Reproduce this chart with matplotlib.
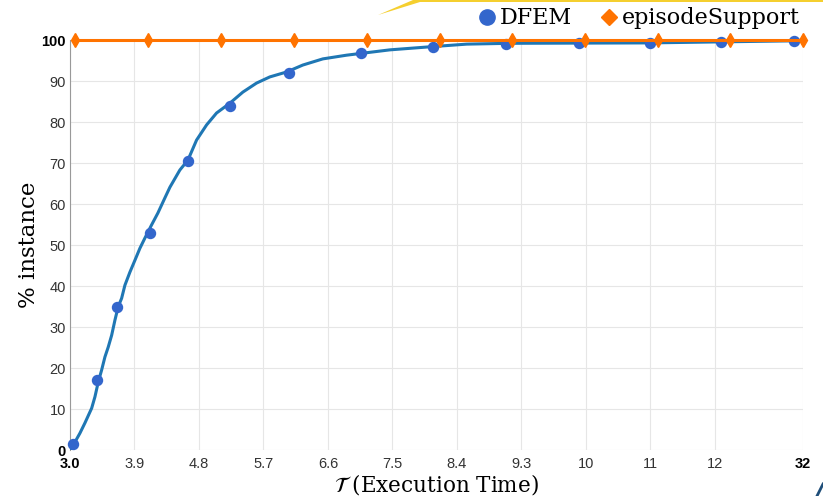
import matplotlib.pyplot as plt
from matplotlib.lines import Line2D
from matplotlib.patches import Polygon

# DFEM curve (x = execution time, y = % instance)
curve_x = [3.0, 3.046, 3.139, 3.209, 3.303, 3.349, 3.395, 3.442, 3.488, 3.534, 3.582,
           3.628, 3.674, 3.721, 3.767, 3.837, 3.907, 3.976, 4.046, 4.139, 4.227,
           4.325, 4.395, 4.534, 4.646, 4.767, 4.907, 5.046, 5.232, 5.413, 5.604,
           5.789, 6.022, 6.25, 6.529, 6.859, 7.184, 7.463, 8.063, 8.537, 9.137,
           11.09, 13.08]
curve_y = [0.0, 1.2, 4.1, 6.6, 10.2, 13.0, 16.6, 19.5, 22.7, 25.1, 28.0,
           31.7, 35.0, 37.0, 40.2, 43.4, 46.3, 49.2, 51.7, 54.9, 57.8,
           61.5, 64.1, 68.3, 70.7, 75.6, 79.3, 82.2, 84.6, 87.3, 89.5,
           91.0, 92.2, 93.9, 95.4, 96.3, 97.0, 97.6, 98.4, 99.0, 99.2,
           99.3, 99.8]

# DFEM markers
dfem_x = [3.04, 3.38, 3.66, 4.12, 4.65, 5.23, 6.05, 7.06, 8.06, 9.08, 10.10, 11.10, 12.08, 13.10]
dfem_y = [1.5, 17.0, 35.0, 53.0, 70.5, 84.0, 92.0, 96.8, 98.2, 99.0, 99.2, 99.3, 99.4, 99.7]

# episodeSupport markers
ep_x = [3.07, 4.09, 5.11, 6.12, 7.14, 8.16, 9.17, 10.19, 11.20, 12.21, 13.23]
ep_y = [100] * len(ep_x)

x_ticks = [3.0, 3.9, 4.8, 5.7, 6.6, 7.5, 8.4, 9.3, 10.2, 11.1, 12.0, 13.23]
x_labels = ['3.0', '3.9', '4.8', '5.7', '6.6', '7.5', '8.4', '9.3', '10', '11', '12', '32']
y_ticks = list(range(0, 101, 10))

blue_line = '#1f77b4'
blue_dot = '#3366cc'
orange = '#ff7300'

fig = plt.figure(figsize=(8.23, 4.96), dpi=100)
ax = fig.add_axes([0.085, 0.0927, 0.8907, 0.8266])

ax.plot(curve_x, curve_y, color=blue_line, lw=2.2, zorder=3)
ax.plot(dfem_x, dfem_y, 'o', color=blue_dot, ms=7.2, zorder=4, clip_on=False)
ax.plot(ep_x, ep_y, color=orange, lw=2.2, marker='d', ms=7, zorder=5, clip_on=False)

ax.set_xlim(3.0, 13.23)
ax.set_ylim(0, 100)
ax.set_xticks(x_ticks)
ax.set_xticklabels(x_labels)
ax.set_yticks(y_ticks)
ax.set_yticklabels([str(v) for v in y_ticks])
ax.grid(True, color='#e6e6e6', lw=0.8)
ax.set_axisbelow(True)
for s in ['top', 'right', 'bottom']:
    ax.spines[s].set_visible(False)
ax.spines['left'].set_color('#999999')
ax.tick_params(length=0, labelsize=10.5, colors='#333333')
ax.tick_params(axis='x', pad=5)
ax.tick_params(axis='y', pad=3)
for lab in ax.get_xticklabels() + ax.get_yticklabels():
    lab.set_family('Liberation Sans')
for lab in [ax.get_xticklabels()[0], ax.get_xticklabels()[-1],
            ax.get_yticklabels()[0], ax.get_yticklabels()[-1]]:
    lab.set_fontweight('bold')
    lab.set_color('black')

ax.set_ylabel('% instance', family='DejaVu Serif', fontsize=16.5, labelpad=1)
ax.set_xlabel(r'$\mathcal{T}$ (Execution Time)', family='DejaVu Serif', fontsize=15.5, labelpad=0.5)

handles = [Line2D([], [], ls='', marker='o', color=blue_dot, ms=11),
           Line2D([], [], ls='', marker='D', color=orange, ms=8)]
fig.legend(handles, ['DFEM', 'episodeSupport'], loc='center right',
           bbox_to_anchor=(0.985, 0.963), ncol=2, frameon=False,
           prop={'family': 'DejaVu Serif', 'size': 16},
           handletextpad=0.05, columnspacing=1.2, handlelength=1.0, borderpad=0)

# slide decoration at the top edge
W, H = 823, 496
fig.patches.append(Polygon([(378 / W, 1 - 15 / H), (413 / W, 1.0), (1.0, 1.0),
                            (1.0, 1 - 2 / H), (420 / W, 1 - 2 / H)],
                           closed=True, transform=fig.transFigure,
                           color='#f5cf2f', lw=0))
fig.lines.append(Line2D([817 / W, 823 / W], [0.0, 12 / H], transform=fig.transFigure,
                        color='#1f4e79', lw=2))

fig.savefig('out.png', dpi=100)
